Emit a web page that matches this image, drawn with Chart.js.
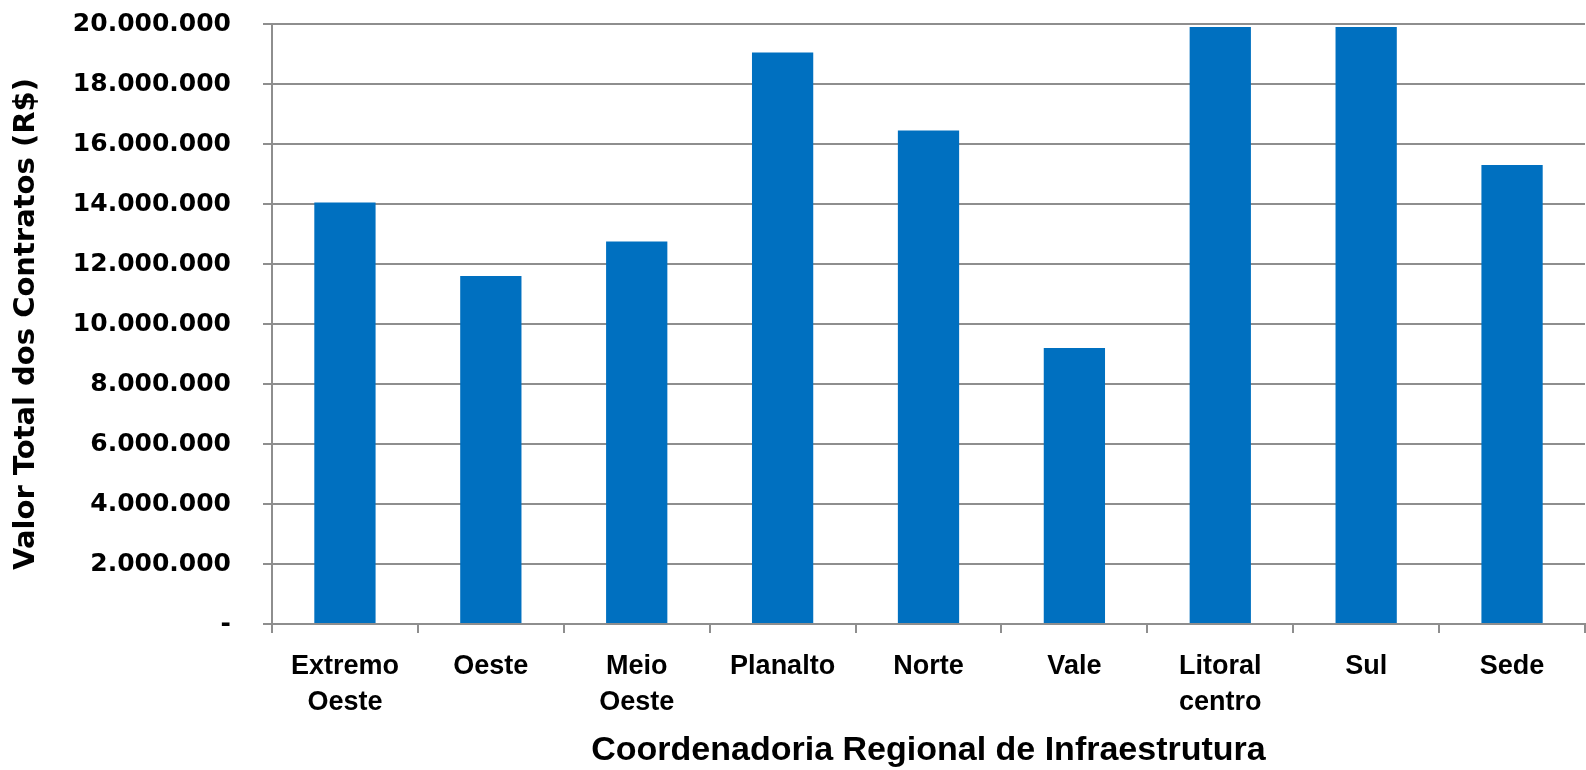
<!DOCTYPE html>
<html lang="pt-BR">
<head>
<meta charset="utf-8">
<title>Valor Total dos Contratos por Coordenadoria Regional</title>
<script src="https://cdn.jsdelivr.net/npm/chart.js@4.4.1/dist/chart.umd.min.js"></script>
<style>
  html, body { margin: 0; padding: 0; background: #ffffff; }
  #wrap { width: 1586px; height: 770px; }
</style>
</head>
<body>
<div id="wrap"><canvas id="grafico"></canvas></div>
<script>
// Dados do gráfico (em R$)
const categorias = [['Extremo', 'Oeste'], 'Oeste', ['Meio', 'Oeste'], 'Planalto', 'Norte', 'Vale', ['Litoral', 'centro'], 'Sul', 'Sede'];
const valores = [14050000, 11600000, 12750000, 19050000, 16450000, 9200000, 19900000, 19900000, 15300000];

// Escala do eixo Y
const eixoYMin = 0;
const eixoYMax = 20000000;
const eixoYPasso = 2000000;

// Cores
const AZUL = '#0070C0';
const CINZA = '#8e8e8e';

// Formata 2000000 -> "2.000.000" e o zero como "-"
function formatarValor(v) {
    if (v === 0) return '-';
    return String(v).replace(/\B(?=(\d{3})+(?!\d))/g, '.');
}

const ctx = document.getElementById('grafico').getContext('2d');

new Chart(ctx, {
    type: 'bar',
    data: {
        labels: categorias,
        datasets: [{
            data: valores,
            backgroundColor: AZUL,
            borderWidth: 0,
            barPercentage: 0.42,
            categoryPercentage: 1
        }]
    },
    options: {
        responsive: true,
        maintainAspectRatio: false,
        animation: false,
        layout: { padding: { top: 24, right: 1, bottom: 0, left: 0 } },
        plugins: {
            legend: { display: false },
            tooltip: { enabled: false }
        },
        scales: {
            x: {
                grid: { display: true, drawOnChartArea: false, drawTicks: true, tickLength: 9, color: CINZA, lineWidth: 2, offset: true },
                border: { color: CINZA, width: 2 },
                ticks: {
                    color: '#000',
                    font: { family: 'Liberation Sans', size: 27, weight: 'bold', lineHeight: 1.333 },
                    padding: 16,
                    maxRotation: 0,
                    autoSkip: false
                },
                title: {
                    display: true,
                    text: 'Coordenadoria Regional de Infraestrutura',
                    color: '#000',
                    font: { family: 'Liberation Sans', size: 34, weight: 'bold', lineHeight: 1 },
                    padding: { top: 0, bottom: 2 }
                },
                afterFit: (scale) => { scale.height = 146; }
            },
            y: {
                min: eixoYMin,
                max: eixoYMax,
                ticks: {
                    stepSize: eixoYPasso,
                    callback: formatarValor,
                    color: '#000',
                    font: { family: 'DejaVu Sans', size: 25, weight: 'bold' },
                    padding: 32
                },
                grid: { color: CINZA, lineWidth: 2, tickLength: 9 },
                border: { color: CINZA, width: 2 },
                title: {
                    display: true,
                    text: 'Valor Total dos Contratos (R$)',
                    color: '#000',
                    font: { family: 'DejaVu Sans', size: 29, weight: 'bold', lineHeight: 1.2 },
                    padding: { top: 9, bottom: 0 }
                },
                // largura fixa do eixo e sem a folga vertical extra do padding dos rótulos
                afterFit: (scale) => {
                    scale.width = 272;
                    scale.paddingTop = 0;
                    scale.paddingBottom = 0;
                }
            }
        }
    }
});
</script>
</body>
</html>
